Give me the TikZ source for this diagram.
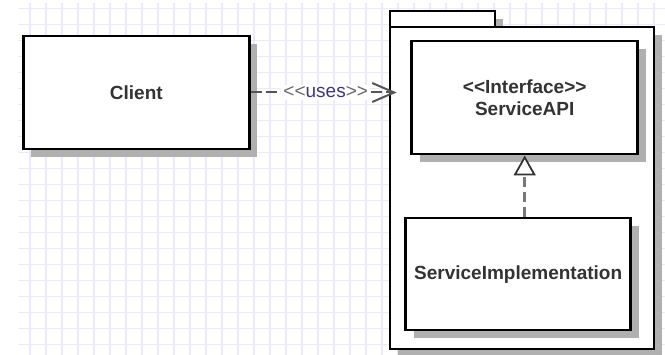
\documentclass[tikz,border=0pt]{standalone}
\usepackage{fontspec}
\setmainfont{Liberation Sans}
\usetikzlibrary{arrows.meta,shadows}

\definecolor{gridline}{RGB}{234,234,252}
\definecolor{shadowgray}{RGB}{176,176,176}
\definecolor{txt}{RGB}{51,51,51}
\definecolor{linkgray}{RGB}{85,85,85}
\definecolor{realizegray}{RGB}{120,120,120}
\definecolor{lblgray}{RGB}{105,105,105}
\definecolor{lblblue}{RGB}{60,55,130}

% double angle brackets, kept apart so they do not join into guillemets
\newcommand{\dlt}{<\kern0pt<}
\newcommand{\dgt}{>\kern0pt>}

\tikzset{
  gridstroke/.style={draw=gridline, line width=1.2pt},
  boxshadow/.style={drop shadow={shadow xshift=8pt, shadow yshift=-8pt, fill=shadowgray, opacity=1}},
  umlbox/.style={rectangle, draw=black, line width=2.6pt, fill=white, boxshadow,
    text=txt, font=\fontsize{19}{22}\selectfont\bfseries, align=center, inner sep=0pt},
  pkgpart/.style={rectangle, draw=black, line width=2.6pt, fill=white, boxshadow, inner sep=0pt},
  useslink/.style={draw=linkgray, line width=2pt, dash pattern=on 11pt off 4pt,
    -{Straight Barb[length=22pt, width=19pt, line width=2pt]}},
  realizelink/.style={draw=realizegray, line width=2.5pt, dash pattern=on 10pt off 5pt,
    -{Triangle[length=20pt, width=22pt, color=txt, fill=white, line width=1.8pt]}},
  linklabel/.style={fill=white, inner sep=2pt, font=\fontsize{19}{22}\selectfont},
}

\begin{document}
\begin{tikzpicture}[x=1pt, y=-1pt]
  % page and background
  \useasboundingbox (0,0) rectangle (665,355);
  \fill[white] (0,0) rectangle (665,355);

  % drawing grid
  \foreach \k in {0,...,39}
    \draw[gridstroke] ({30+16*\k},3) -- ({30+16*\k},355);
  \foreach \k in {0,...,21}
    \draw[gridstroke] (18,{8.7+16*\k}) -- (665,{8.7+16*\k});

  % package: tab first, then body over the tab's shadow
  \node[pkgpart, minimum width=105pt, minimum height=16pt] (tab) at (442.5,19) {};
  \node[pkgpart, minimum width=264pt, minimum height=322pt] (pkg) at (522,188) {};

  % classes
  \node[umlbox, minimum width=226pt, minimum height=113pt] (client) at (136.3,92.5) {Client};
  \node[umlbox, minimum width=226pt, minimum height=113pt] (api) at (524.7,97.7)
    {\dlt Interface\dgt\\ServiceAPI};
  \node[umlbox, minimum width=225pt, minimum height=112pt] (impl) at (518.2,274.2)
    {ServiceImplementation};

  % dependency
  \draw[useslink, shorten >=13.7pt] (client.east) -- (client.east -| api.west)
    node[linklabel, pos=0.47] (usesLabel)
    {{\color{lblgray}\dlt}{\color{lblblue}uses}{\color{lblgray}\dgt}};

  % realization
  \draw[realizelink] (impl.north -| api.south) -- (api.south);
\end{tikzpicture}
\end{document}
